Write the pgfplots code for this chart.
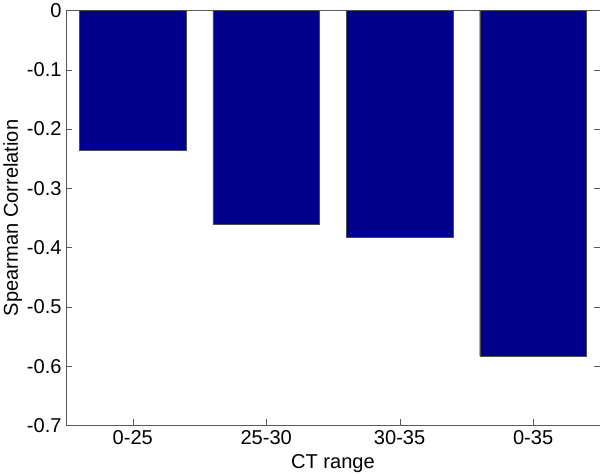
\documentclass[border=0pt]{standalone}
\usepackage{pgfplots}
\pgfplotsset{compat=1.18}
\usepackage{fontspec}
\setmainfont{Liberation Sans}
\definecolor{barblue}{RGB}{0,0,140}
\begin{document}
\begin{tikzpicture}
\begin{axis}[
    scale only axis,
    width=530bp, height=412bp,
    ybar=0pt,
    bar width=0.8,
    xmin=0.5, xmax=4.5,
    ymin=-0.7, ymax=0,
    xtick={1,2,3,4},
    xticklabels={0-25,25-30,30-35,0-35},
    ytick={-0.7,-0.6,-0.5,-0.4,-0.3,-0.2,-0.1,0},
    yticklabels={-0.7,-0.6,-0.5,-0.4,-0.3,-0.2,-0.1,0},
    tick align=inside,
    major tick length=6bp,
    axis line style={black!65},
    tick style={black!65},
    font=\fontsize{20}{24}\selectfont,
    tick label style={font=\fontsize{20}{24}\selectfont},
    label style={font=\fontsize{20}{24}\selectfont},
    xlabel={CT range},
    ylabel={Spearman Correlation},
    xticklabel style={yshift=-2bp},
    xlabel style={yshift=-2bp},
    ylabel style={yshift=-2bp},
    yticklabel style={xshift=-1bp},
]
\addplot[fill=barblue, draw=black!70] coordinates {
    (1,-0.236) (2,-0.360) (3,-0.382) (4,-0.583)
};
\end{axis}
\end{tikzpicture}
\end{document}
